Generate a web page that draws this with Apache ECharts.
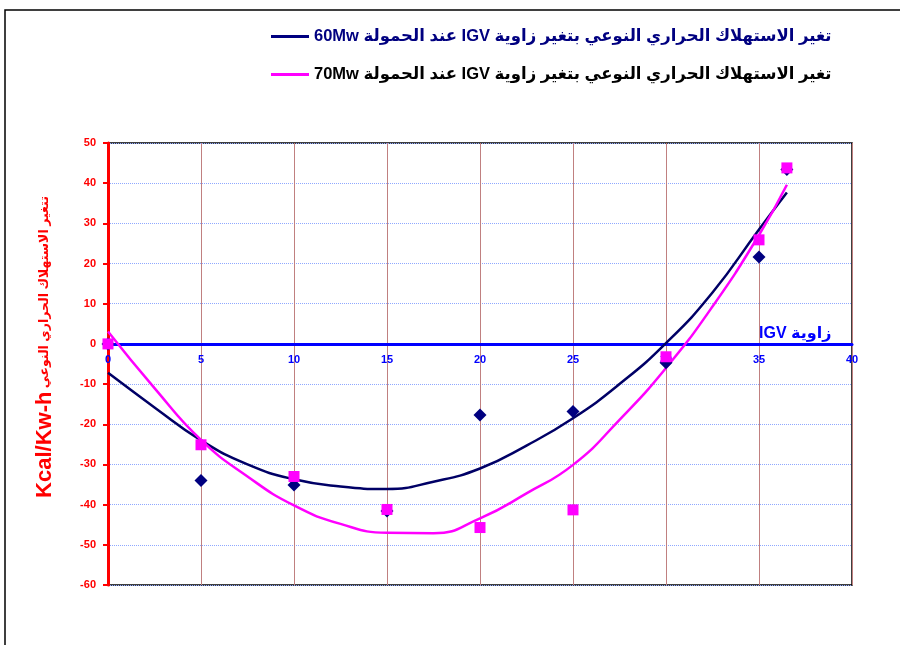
<!DOCTYPE html>
<html>
<head>
<meta charset="utf-8">
<script src="https://cdn.jsdelivr.net/npm/echarts@6/dist/echarts.min.js"></script>
<style>
  html, body { margin: 0; padding: 0; background: #fff; }
  #chart { width: 900px; height: 645px; }
</style>
</head>
<body>
<div id="chart"></div>
<script>
// measured points
const angles = [0, 5, 10, 15, 20, 25, 30, 35, 36.5];
const load60 = [0, -34, -35.1, -41.6, -17.7, -16.8, -4.7, 21.6, 43.4];
const load70 = [0, -25.1, -33, -41.2, -45.7, -41.3, -3.2, 25.9, 43.8];

// trend curves
const trendX = [0, 2.5, 5, 7.5, 10, 12.5, 15, 17.5, 20, 22.5, 25, 27.5, 30, 32.5, 35, 36.5];
const trend60 = [-7.2, -15.8, -24, -30, -33.7, -35.5, -36.1, -34.3, -31, -25.3, -18.5, -10, 0.2, 12.8, 28.5, 37.7];
const trend70 = [3.1, -11, -23.9, -33, -40.2, -44.8, -47, -47.1, -43.4, -37.2, -30.1, -18.9, -6, 9.3, 27.1, 39.6];

const yTicks = { min: -60, max: 50, step: 10 };
const xTicks = { min: 0, max: 40, step: 5 };

const name60 = "تغير الاستهلاك الحراري النوعي بتغير زاوية IGV عند الحمولة 60Mw";
const name70 = "تغير الاستهلاك الحراري النوعي بتغير زاوية IGV عند الحمولة 70Mw";
const xName = "زاوية IGV";

const rtl = s => "\u202B" + s + "\u202C";
const pairs = (xs, ys) => xs.map((x, i) => [x, ys[i]]);
const font = "Arial, 'Liberation Sans', 'DejaVu Sans', sans-serif";

const chart = echarts.init(document.getElementById("chart"));
chart.setOption({
  backgroundColor: "#fff",
  animation: false,
  textStyle: { fontFamily: font },
  legend: {
    orient: "vertical",
    left: 266,
    top: 23,
    itemGap: 21,
    itemWidth: 38,
    itemHeight: 3,
    icon: "rect",
    formatter: n => rtl(n),
    data: [
      { name: name60, textStyle: { color: "#000080" } },
      { name: name70, textStyle: { color: "#000" } }
    ],
    textStyle: { fontSize: 16.5, fontWeight: "bold", fontFamily: font }
  },
  grid: {
    left: 108,
    right: 48,
    top: 143,
    bottom: 60,
    show: true,
    borderColor: "#000",
    borderWidth: 1.5
  },
  xAxis: {
    type: "value",
    min: xTicks.min,
    max: xTicks.max,
    interval: xTicks.step,
    name: rtl(xName),
    nameLocation: "end",
    nameGap: -93,
    nameTextStyle: { color: "#0000ff", fontSize: 16, fontWeight: "bold", verticalAlign: "bottom", padding: [0, 0, 2, 0] },
    axisLine: { onZero: true, lineStyle: { color: "#0000ff", width: 3 } },
    axisTick: { show: false },
    axisLabel: { color: "#0000ff", fontSize: 11, fontWeight: "bold", margin: -231 },
    splitLine: { show: true, lineStyle: { color: "#c08080", width: 1 } }
  },
  yAxis: {
    type: "value",
    min: yTicks.min,
    max: yTicks.max,
    interval: yTicks.step,
    name: "{b|Kcal/Kw-h} {a|تتغير الاستهلاك الحراري النوعي}",
    nameLocation: "middle",
    nameRotate: 90,
    nameGap: 52,
    nameTextStyle: {
      padding: [0, 0, 0, 34],
      rich: {
        b: { color: "#ff0000", fontSize: 22, fontWeight: "bold", fontFamily: font },
        a: { color: "#ff0000", fontSize: 12.5, fontWeight: "bold", fontFamily: font }
      }
    },
    axisLine: { show: true, onZero: false, lineStyle: { color: "#ff0000", width: 3 } },
    axisTick: { show: true, length: 5, lineStyle: { color: "#ff0000", width: 2 } },
    axisLabel: { color: "#ff0000", fontSize: 11, fontWeight: "bold", margin: 12 },
    splitLine: { show: true, lineStyle: { color: "#8fa8ff", width: 1, type: "dotted" } }
  },
  graphic: [{
    type: "rect",
    shape: { x: 5, y: 10, width: 910, height: 660 },
    style: { fill: "none", stroke: "#000", lineWidth: 1.5 },
    silent: true
  }],
  series: [
    {
      name: name60,
      type: "line",
      smooth: true,
      showSymbol: false,
      data: pairs(trendX, trend60),
      lineStyle: { color: "#000066", width: 2.5 },
      itemStyle: { color: "#000080" },
      z: 2
    },
    {
      name: name70,
      type: "line",
      smooth: true,
      showSymbol: false,
      data: pairs(trendX, trend70),
      lineStyle: { color: "#ff00ff", width: 2.5 },
      itemStyle: { color: "#ff00ff" },
      z: 2
    },
    {
      name: "points60",
      type: "scatter",
      symbol: "diamond",
      symbolSize: 13,
      data: pairs(angles, load60),
      itemStyle: { color: "#000080", opacity: 1 },
      z: 3
    },
    {
      name: "points70",
      type: "scatter",
      symbol: "rect",
      symbolSize: 11,
      data: pairs(angles, load70),
      itemStyle: { color: "#ff00ff", opacity: 1 },
      z: 4
    }
  ]
});
</script>
</body>
</html>
